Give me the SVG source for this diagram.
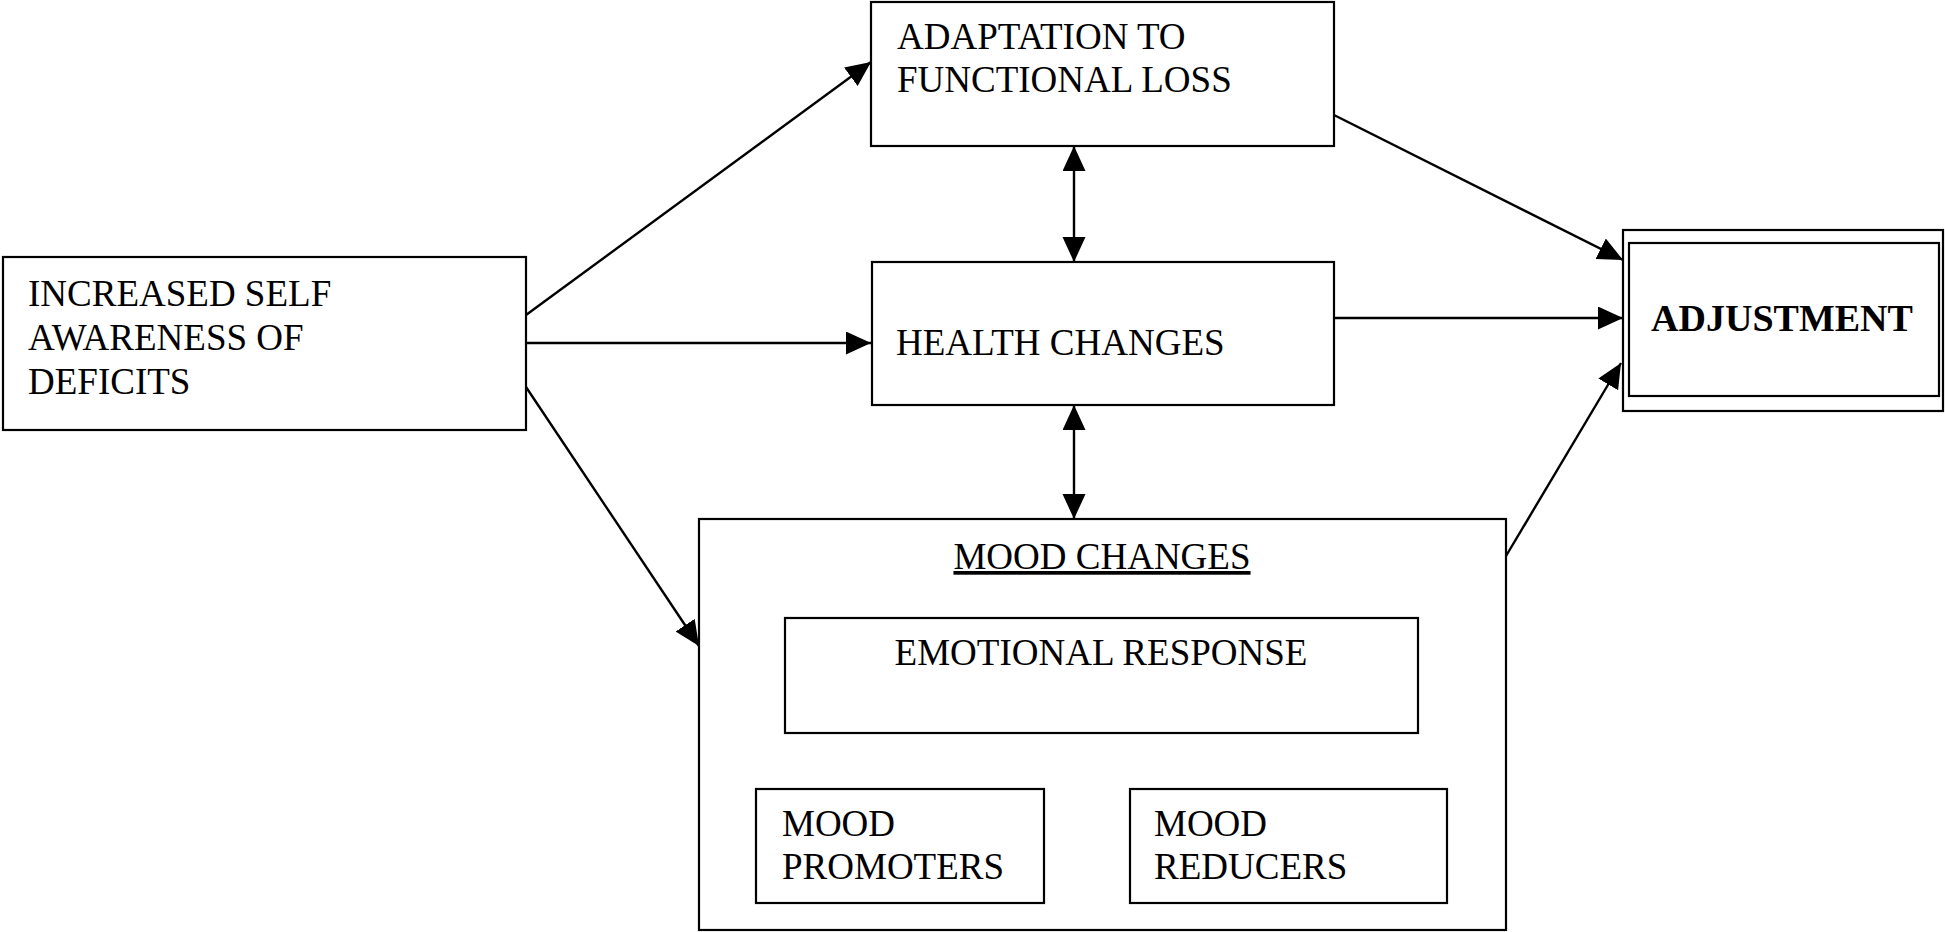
<svg xmlns="http://www.w3.org/2000/svg" width="1945" height="932" viewBox="0 0 1945 932">
<style>
.box{fill:#fff;stroke:#000;stroke-width:2.2}
.t{font-family:"Liberation Serif","Times New Roman",serif;font-size:37px;fill:#000}
.b{font-weight:bold;font-size:38px}
.c{stroke:#000;stroke-width:2.4;fill:none}
</style>
<defs>
<marker id="ah" markerUnits="userSpaceOnUse" markerWidth="26" markerHeight="24" refX="25" refY="11.5" orient="auto-start-reverse" viewBox="0 0 26 24">
<path d="M0,0 L25,11.5 L0,23 z" fill="#000"/>
</marker>
</defs>
<rect width="1945" height="932" fill="#fff"/>
<g id="connectors">
<line class="c" x1="526" y1="315" x2="871" y2="62" marker-end="url(#ah)"/>
<line class="c" x1="526" y1="343" x2="871" y2="343" marker-end="url(#ah)"/>
<line class="c" x1="526" y1="387" x2="699" y2="646" marker-end="url(#ah)"/>
<line class="c" x1="1074" y1="146" x2="1074" y2="262" marker-start="url(#ah)" marker-end="url(#ah)"/>
<line class="c" x1="1074" y1="405" x2="1074" y2="519" marker-start="url(#ah)" marker-end="url(#ah)"/>
<line class="c" x1="1334" y1="115" x2="1623" y2="260" marker-end="url(#ah)"/>
<line class="c" x1="1334" y1="318" x2="1623" y2="318" marker-end="url(#ah)"/>
<line class="c" x1="1506" y1="556" x2="1621" y2="363" marker-end="url(#ah)"/>
<line class="c" x1="991" y1="789" x2="1045" y2="734" marker-end="url(#ah)"/>
<line class="c" x1="1186" y1="789" x2="1130" y2="734" marker-end="url(#ah)"/>
</g>
<g id="n-awareness">
<rect class="box" x="3" y="257" width="523" height="173"/>
<text class="t" x="28" y="306">INCREASED SELF</text>
<text class="t" x="28" y="350">AWARENESS OF</text>
<text class="t" x="28" y="394">DEFICITS</text>
</g>
<g id="n-adaptation">
<rect class="box" x="871" y="2" width="463" height="144"/>
<text class="t" x="897" y="49">ADAPTATION TO</text>
<text class="t" x="897" y="92">FUNCTIONAL LOSS</text>
</g>
<g id="n-health">
<rect class="box" x="872" y="262" width="462" height="143"/>
<text class="t" x="896" y="355">HEALTH CHANGES</text>
</g>
<g id="n-adjustment">
<rect class="box" x="1623" y="230" width="320" height="181"/>
<rect class="box" x="1629" y="243" width="310" height="153"/>
<text class="t b" x="1782" y="331" text-anchor="middle">ADJUSTMENT</text>
</g>
<g id="n-mood">
<rect class="box" x="699" y="519" width="807" height="411"/>
<text class="t" x="1102" y="569" text-anchor="middle" text-decoration="underline">MOOD CHANGES</text>
</g>
<g id="n-emotional">
<rect class="box" x="785" y="618" width="633" height="115"/>
<text class="t" x="1101" y="665" text-anchor="middle">EMOTIONAL RESPONSE</text>
</g>
<g id="n-promoters">
<rect class="box" x="756" y="789" width="288" height="114"/>
<text class="t" x="782" y="836">MOOD</text>
<text class="t" x="782" y="879">PROMOTERS</text>
</g>
<g id="n-reducers">
<rect class="box" x="1130" y="789" width="317" height="114"/>
<text class="t" x="1154" y="836">MOOD</text>
<text class="t" x="1154" y="879">REDUCERS</text>
</g>
</svg>
